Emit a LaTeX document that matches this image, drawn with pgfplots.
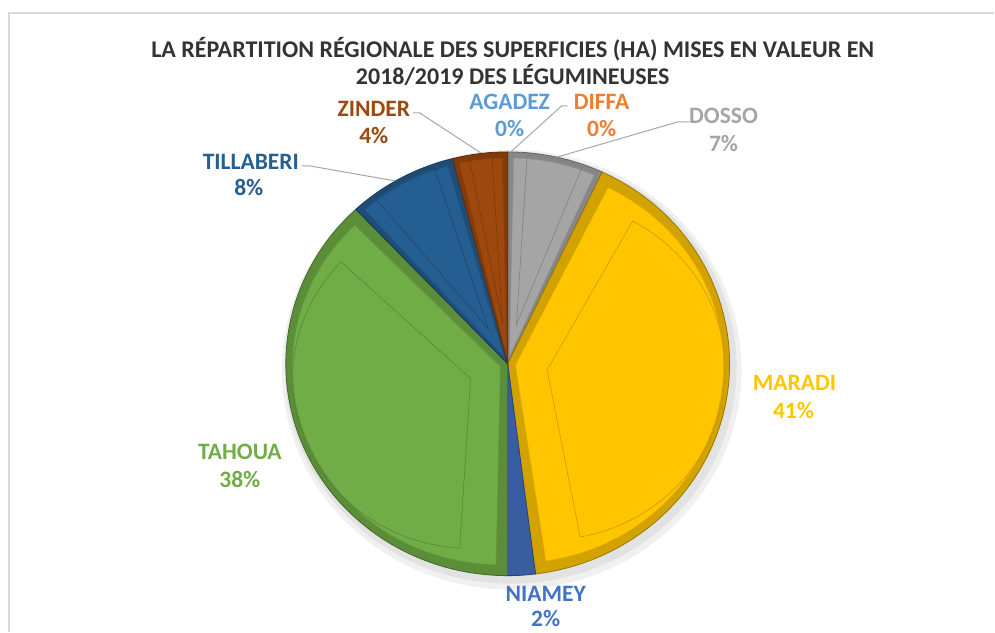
\documentclass[border=0pt]{standalone}
\usepackage{fontspec}
\setmainfont{Carlito}
\usepackage{pgfplots}
\usepackage{pgfplotstable}
\pgfplotsset{compat=1.18}
\definecolor{cAgadez}{HTML}{5B9BD5}
\definecolor{cDiffa}{HTML}{ED7D31}
\definecolor{cDosso}{HTML}{A5A5A5}
\definecolor{cMaradi}{HTML}{FFC600}
\definecolor{cNiamey}{HTML}{4472C4}
\definecolor{cTahoua}{HTML}{70AD47}
\definecolor{cTill}{HTML}{255E91}
\definecolor{cZinder}{HTML}{9E480E}
\definecolor{titlecol}{HTML}{333333}
\definecolor{leader}{HTML}{A6A6A6}
\definecolor{frame}{HTML}{D9D9D9}
\pgfplotstableread{
name val col
AGADEZ 0 cAgadez
DIFFA 0 cDiffa
DOSSO 7 cDosso
MARADI 41 cMaradi
NIAMEY 2 cNiamey
TAHOUA 38 cTahoua
TILLABERI 8 cTill
ZINDER 4 cZinder
}\piedata
\newcommand\lab{\fontsize{23.5}{27}\selectfont\bfseries}
\begin{document}
\begin{tikzpicture}
\begin{axis}[x=1pt,y=1pt,xmin=0,xmax=995,ymin=0,ymax=632,hide axis,clip=false]
\path (axis cs:0,0) rectangle (axis cs:995,632);
% frame
\draw[frame,line width=1.2pt] (axis cs:9,0) -- (axis cs:9,619) -- (axis cs:995,619);
% shadow
\fill[black,opacity=0.06] (axis cs:512,262) ellipse[x radius=230pt,y radius=220pt];
\fill[black,opacity=0.06] (axis cs:511,264) ellipse[x radius=226pt,y radius=216pt];
\xdef\cura{90}
\pgfplotsinvokeforeach{0,...,7}{%
  \pgfplotstablegetelem{#1}{val}\of\piedata \let\v\pgfplotsretval
  \pgfplotstablegetelem{#1}{col}\of\piedata \let\c\pgfplotsretval
  \pgfmathsetmacro\nexta{\cura-3.6*\v}
  \pgfmathsetmacro\mida{(\cura+\nexta)/2}
  \edef\tmp{\noexpand\fill[\c!82!black, draw=\c!60!black, line width=0.8pt]
    (axis cs:508,268) -- ++(\cura:222pt and 212pt)
    arc[start angle=\cura, end angle=\nexta, x radius=222pt, y radius=212pt] -- cycle;}
  \tmp
  \ifdim\v pt>3pt
    \pgfmathsetmacro\ia{\cura-1.2}
    \pgfmathsetmacro\ib{\nexta+1.2}
    \pgfmathsetmacro\ja{\cura-3.5}
    \pgfmathsetmacro\jb{\nexta+3.5}
    \edef\tmp{\noexpand\fill[\c, draw=\c!90!black, line width=0.4pt]
      (axis cs:508,268) ++(\mida:8pt) -- ++(\ia:208pt and 198pt)
      arc[start angle=\ia, end angle=\ib, x radius=208pt, y radius=198pt] -- cycle;
      \noexpand\draw[\c!75!black, line width=0.5pt]
      (axis cs:508,268) ++(\mida:40pt) -- ++(\ja:178pt and 170pt)
      arc[start angle=\ja, end angle=\jb, x radius=178pt, y radius=170pt] -- cycle;}
    \tmp
  \fi
  \global\let\cura\nexta
}
% leader lines
\draw[leader,line width=1pt] (axis cs:413,519) -- (axis cs:420,519) -- (axis cs:481,479);
\draw[leader,line width=1pt] (axis cs:568,526) -- (axis cs:562,526) -- (axis cs:511,480);
\draw[leader,line width=1pt] (axis cs:690,510) -- (axis cs:678,510) -- (axis cs:558,475);
\draw[leader,line width=1pt] (axis cs:302,466) -- (axis cs:310,466) -- (axis cs:395,451);
% title
\node[titlecol,font=\fontsize{24}{28}\selectfont\bfseries] at (axis cs:513,583) {LA RÉPARTITION RÉGIONALE DES SUPERFICIES (HA) MISES EN VALEUR EN};
\node[titlecol,font=\fontsize{24}{28}\selectfont\bfseries] at (axis cs:513,557) {2018/2019 DES LÉGUMINEUSES};
% labels
\node[cAgadez,font=\lab] at (axis cs:510,530) {AGADEZ};
\node[cAgadez,font=\lab] at (axis cs:510,503) {0\%};
\node[cDiffa,font=\lab] at (axis cs:602,530) {DIFFA};
\node[cDiffa,font=\lab] at (axis cs:602,503) {0\%};
\node[cDosso,font=\lab] at (axis cs:724,516) {DOSSO};
\node[cDosso,font=\lab] at (axis cs:724,488) {7\%};
\node[cZinder,font=\lab] at (axis cs:374,523) {ZINDER};
\node[cZinder,font=\lab] at (axis cs:374,496) {4\%};
\node[cTill,font=\lab] at (axis cs:251,470) {TILLABERI};
\node[cTill,font=\lab] at (axis cs:249,444) {8\%};
\node[cMaradi,font=\lab] at (axis cs:795,249) {MARADI};
\node[cMaradi,font=\lab] at (axis cs:794,221) {41\%};
\node[cTahoua,font=\lab] at (axis cs:240,180) {TAHOUA};
\node[cTahoua,font=\lab] at (axis cs:240,152) {38\%};
\node[cNiamey,font=\lab] at (axis cs:546,38) {NIAMEY};
\node[cNiamey,font=\lab] at (axis cs:546,13) {2\%};
\end{axis}
\end{tikzpicture}
\end{document}
